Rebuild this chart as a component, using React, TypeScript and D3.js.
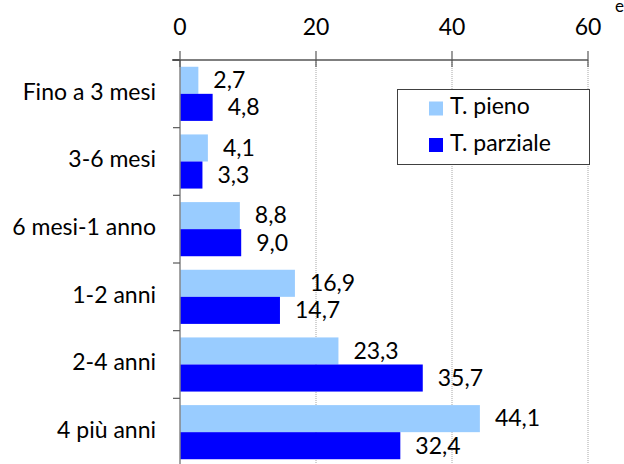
import React from "react";
import * as d3 from "d3";

const categories = ["Fino a 3 mesi", "3-6 mesi", "6 mesi-1 anno", "1-2 anni", "2-4 anni", "4 più anni"];
const seriesNames = ["T. pieno", "T. parziale"];
const pieno = [2.7, 4.1, 8.8, 16.9, 23.3, 44.1];
const parziale = [4.8, 3.3, 9.0, 14.7, 35.7, 32.4];
const xTicks = [0, 20, 40, 60];
const colors = ["#99CCFF", "#0000FF"];

const FONT = "Lato, 'Open Sans', sans-serif";

export default function App() {
  const W = 624, H = 464;
  const x = d3.scaleLinear().domain([0, 60]).range([180, 588]);
  const y = d3.scaleBand<string>().domain(categories).range([60, 466]).paddingInner(0.2).paddingOuter(0.1);
  const y1 = d3.scaleBand<number>().domain([0, 1]).range([0, y.bandwidth()]);
  const step = y.step();
  const boundaries = d3.range(categories.length + 1).map((i) => 60 + i * step);
  const series = [pieno, parziale];
  const fmt = (v: number) => v.toFixed(1).replace(".", ",");

  return (
    <svg width={W} height={H} style={{ position: "absolute", left: 0, top: 0, background: "#fff" }} fontFamily={FONT}>
      <rect x={0} y={0} width={W} height={H} fill="#fff" />
      {/* gridlines */}
      {xTicks.slice(1).map((t) => (
        <line key={"g" + t} x1={x(t)} x2={x(t)} y1={60} y2={466} stroke="#A6A6A6" strokeWidth={1} strokeDasharray="1,1" />
      ))}
      {/* bars */}
      {categories.map((c, i) => (
        <g key={c}>
          {series.map((s, k) => (
            <rect key={k} x={x(0)} y={(y(c) as number) + (y1(k) as number)} width={x(s[i]) - x(0)} height={y1.bandwidth()} fill={colors[k]} />
          ))}
          {series.map((s, k) => (
            <text key={"t" + k} x={x(s[i]) + 15} y={(y(c) as number) + (y1(k) as number) + y1.bandwidth() / 2 + 2} dominantBaseline="middle" fontSize={23} fill="#000">
              {fmt(s[i])}
            </text>
          ))}
          <text x={156} y={(y(c) as number) + y.bandwidth() / 2} dominantBaseline="middle" textAnchor="end" fontSize={23} fill="#000">
            {c}
          </text>
        </g>
      ))}
      {/* y axis */}
      <line x1={180} x2={180} y1={60} y2={466} stroke="#868686" strokeWidth={1.5} />
      {boundaries.map((b, i) => (
        <line key={"b" + i} x1={173} x2={180} y1={b} y2={b} stroke="#595959" strokeWidth={1.2} />
      ))}
      {/* top axis */}
      <line x1={172} x2={588} y1={60} y2={60} stroke="#000" strokeWidth={1.2} />
      {xTicks.map((t) => (
        <g key={"x" + t}>
          <line x1={x(t)} x2={x(t)} y1={51} y2={67} stroke="#595959" strokeWidth={1.2} />
          <text x={x(t)} y={35} textAnchor="middle" fontSize={23} fill="#000">{t}</text>
        </g>
      ))}
      {/* legend */}
      <rect x={397.5} y={89.5} width={192} height={75} fill="#fff" stroke="#404040" strokeWidth={1} />
      {seriesNames.map((n, k) => (
        <g key={n}>
          <rect x={429} y={101.5 + k * 36.5} width={14} height={14} fill={colors[k]} />
          <text x={450} y={108.5 + k * 36.5} dominantBaseline="middle" fontSize={23} fill="#000">{n}</text>
        </g>
      ))}
      <text x={615} y={12} fontSize={17} fill="#000">e</text>
    </svg>
  );
}
